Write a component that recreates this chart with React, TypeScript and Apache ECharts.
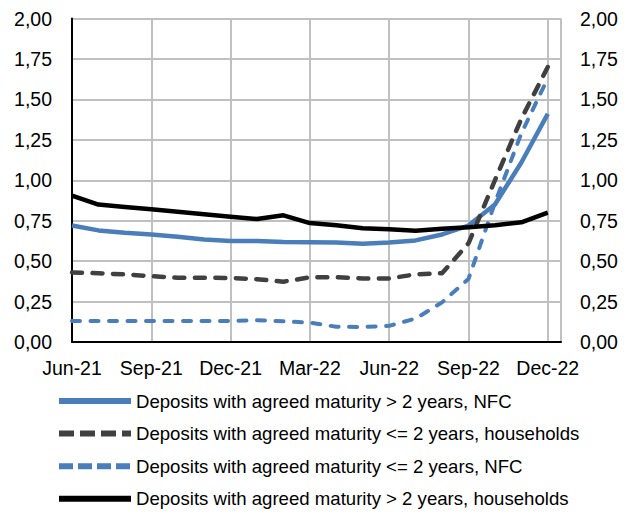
import React, { useEffect, useRef } from "react";
import * as echarts from "echarts";

const months = [
  "Jun-21", "Jul-21", "Aug-21", "Sep-21", "Oct-21", "Nov-21", "Dec-21",
  "Jan-22", "Feb-22", "Mar-22", "Apr-22", "May-22", "Jun-22", "Jul-22",
  "Aug-22", "Sep-22", "Oct-22", "Nov-22", "Dec-22",
];

const nfcLong = [0.72, 0.69, 0.675, 0.665, 0.65, 0.633, 0.625, 0.625, 0.619, 0.617, 0.615, 0.607, 0.615, 0.628, 0.665, 0.72, 0.85, 1.11, 1.41];
const hhShort = [0.43, 0.425, 0.418, 0.407, 0.397, 0.397, 0.396, 0.388, 0.373, 0.40, 0.40, 0.393, 0.393, 0.418, 0.425, 0.61, 1.0, 1.38, 1.70];
const nfcShort = [0.13, 0.13, 0.13, 0.13, 0.13, 0.13, 0.13, 0.135, 0.128, 0.12, 0.094, 0.093, 0.10, 0.145, 0.245, 0.39, 0.86, 1.29, 1.63];
const hhLong = [0.905, 0.85, 0.835, 0.82, 0.805, 0.79, 0.775, 0.76, 0.783, 0.735, 0.722, 0.703, 0.697, 0.688, 0.70, 0.71, 0.722, 0.74, 0.80];

const names = [
  "Deposits with agreed maturity > 2 years, NFC",
  "Deposits with agreed maturity <= 2 years, households",
  "Deposits with agreed maturity <= 2 years, NFC",
  "Deposits with agreed maturity > 2 years, households",
];

const FONT = "Liberation Sans, Arial, sans-serif";

export default function App() {
  const ref = useRef<HTMLDivElement>(null);
  useEffect(() => {
    if (!ref.current) return;
    const chart = echarts.init(ref.current, null, { renderer: "svg" });
    const toPairs = (arr: number[]) => arr.map((v, i) => [i, v]);
    const yLabel = (v: number) => v.toFixed(2).replace(".", ",");
    const mk = (name: string, data: number[], color: string, type: any, width: number, cap: string) => ({
      name,
      type: "line",
      data: toPairs(data),
      symbol: "none",
      showSymbol: false,
      lineStyle: { color, type, width, cap },
      itemStyle: { color },
    });
    chart.setOption({
      animation: false,
      backgroundColor: "#fff",
      textStyle: { fontFamily: FONT },
      grid: { left: 72, right: 69, top: 18.5, bottom: 171, containLabel: false },
      xAxis: {
        type: "value",
        min: 0,
        max: 18.5,
        interval: 3,
        axisLine: { show: true, lineStyle: { color: "#000", width: 2 } },
        axisTick: { show: false },
        splitLine: { show: true, lineStyle: { color: "#c0c0c0", width: 2 } },
        axisLabel: {
          fontSize: 19.5,
          color: "#000",
          margin: 16,
          fontFamily: FONT,
          formatter: (v: number) => (Number.isInteger(v) && v % 3 === 0 && months[v] ? months[v] : ""),
        },
      },
      yAxis: [
        {
          type: "value",
          min: 0,
          max: 2,
          interval: 0.25,
          position: "left",
          axisLine: { show: true, lineStyle: { color: "#000", width: 2 } },
          axisTick: { show: false },
          splitLine: { show: true, lineStyle: { color: "#c0c0c0", width: 2 } },
          axisLabel: { fontSize: 19.5, color: "#000", margin: 20, fontFamily: FONT, formatter: yLabel },
        },
        {
          type: "value",
          min: 0,
          max: 2,
          interval: 0.25,
          position: "right",
          axisLine: { show: false },
          axisTick: { show: false },
          splitLine: { show: false },
          axisLabel: { fontSize: 19.5, color: "#000", margin: 19, fontFamily: FONT, formatter: yLabel },
        },
      ],
      legend: {
        orient: "vertical",
        left: 56,
        top: 391.5,
        padding: 0,
        itemWidth: 72,
        itemHeight: 14,
        itemGap: 13.6,
        itemStyle: { opacity: 0, borderWidth: 0 },
        lineStyle: { width: 6, cap: "butt" },
        textStyle: { fontSize: 18.6, color: "#000", fontFamily: FONT },
        data: [
          { name: names[0] },
          { name: names[1], lineStyle: { type: [15, 6], width: 6, cap: "butt" } },
          { name: names[2], lineStyle: { type: [14, 5], width: 6, cap: "butt" } },
          { name: names[3] },
        ],
      },
      series: [
        mk(names[0], nfcLong, "#4a7ebb", "solid", 4.5, "butt"),
        mk(names[1], hhShort, "#404040", [10, 10.5], 4.5, "round"),
        mk(names[2], nfcShort, "#4a7ebb", [8, 10.5], 4, "round"),
        mk(names[3], hhLong, "#000000", "solid", 4.5, "butt"),
      ],
    });
    return () => chart.dispose();
  }, []);
  return <div ref={ref} style={{ position: "fixed", left: 0, top: 0, width: 630, height: 513 }} />;
}
